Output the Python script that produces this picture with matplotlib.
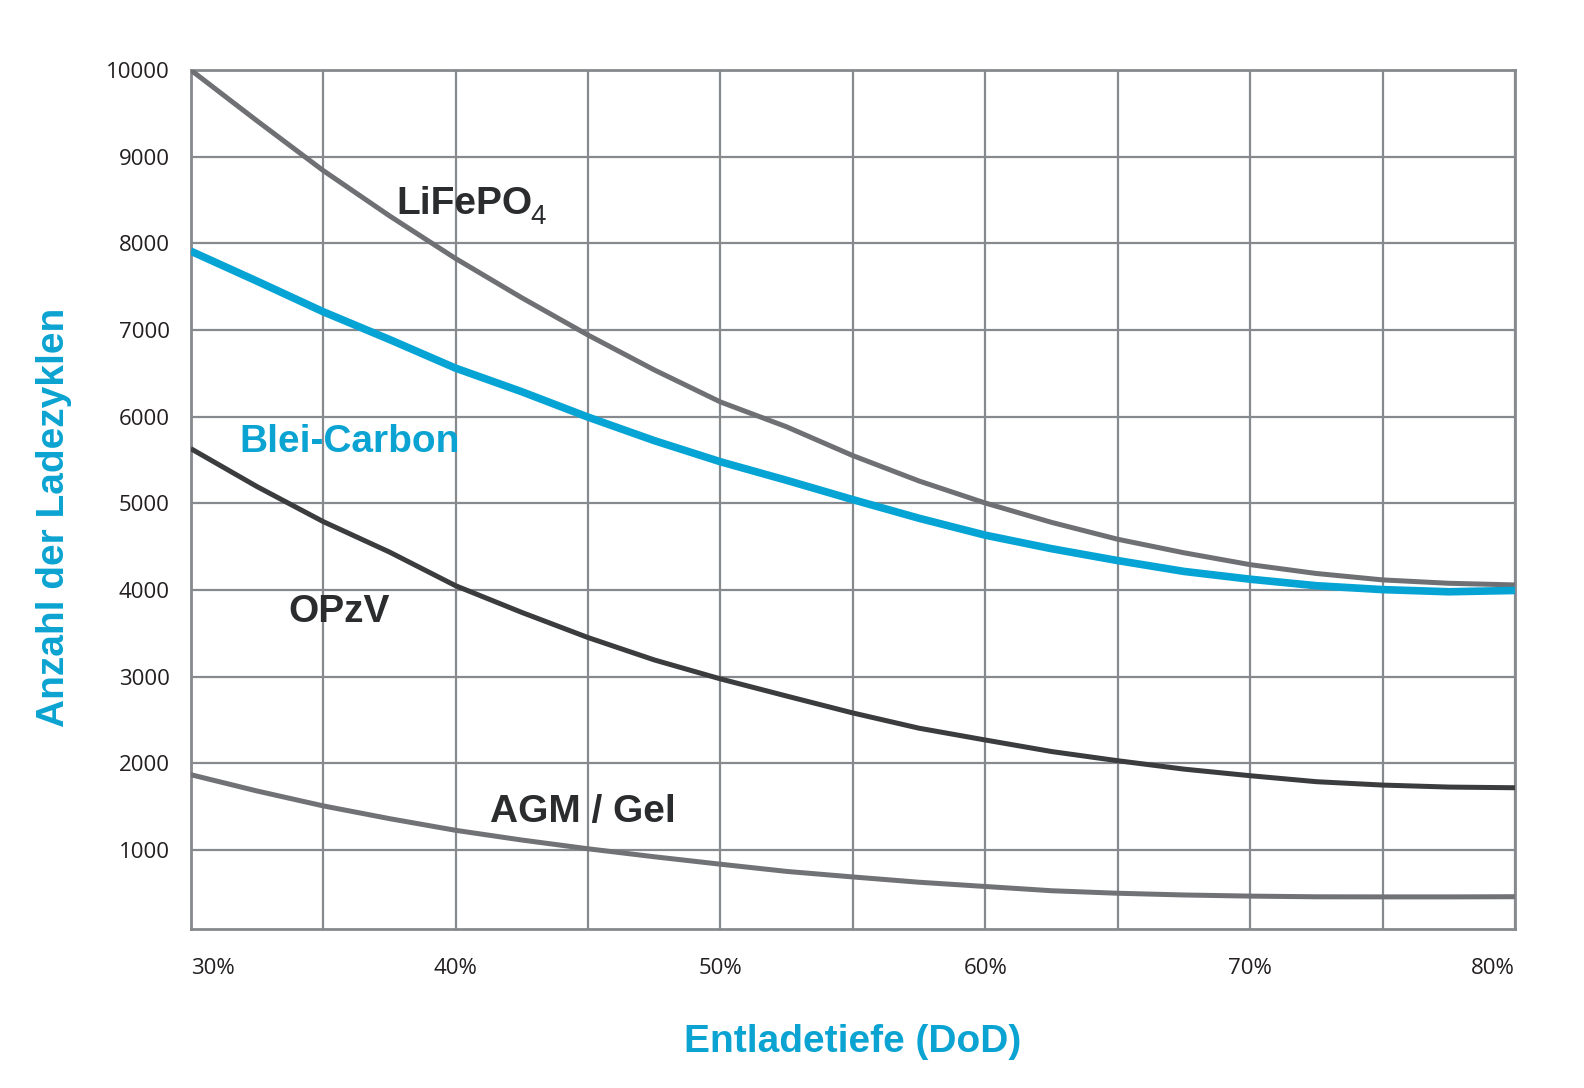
import matplotlib.pyplot as plt

# Werte (Entladetiefe in %, Anzahl Ladezyklen), alle 2,5 %
dod = [30, 32.5, 35, 37.5, 40, 42.5, 45, 47.5, 50, 52.5, 55,
       57.5, 60, 62.5, 65, 67.5, 70, 72.5, 75, 77.5, 80]
lifepo4 = [10000, 9414, 8840, 8318, 7825, 7372, 6942, 6540, 6170, 5883, 5551,
           5258, 5004, 4781, 4586, 4430, 4293, 4191, 4117, 4078, 4059]
blei_carbon = [7910, 7564, 7211, 6891, 6560, 6288, 5995, 5724, 5480, 5266, 5043,
               4828, 4633, 4477, 4340, 4215, 4125, 4050, 4005, 3980, 3995]
opzv = [5632, 5194, 4790, 4439, 4050, 3742, 3452, 3194, 2975, 2777, 2582,
        2406, 2270, 2137, 2031, 1934, 1858, 1789, 1750, 1727, 1719]
agm_gel = [1870, 1682, 1510, 1363, 1228, 1116, 1015, 923, 837, 754, 690,
           629, 580, 531, 502, 482, 469, 461, 460, 460, 462]

x_ticks = [30, 40, 50, 60, 70, 80]
x_ticklabels = ["30%", "40%", "50%", "60%", "70%", "80%"]
y_ticks = [1000, 2000, 3000, 4000, 5000, 6000, 7000, 8000, 9000, 10000]

blau = "#0ba3d1"
dunkel = "#2b2c2e"
gitter = "#86898d"

fig = plt.figure(figsize=(15.84, 10.88), dpi=100)
ax = fig.add_axes([0.1204, 0.1461, 0.8360, 0.7896])

ax.plot(dod, lifepo4, color="#6f7074", lw=3.6, solid_capstyle="butt", solid_joinstyle="round", zorder=3)
ax.plot(dod, opzv, color="#3b3c3e", lw=3.6, solid_capstyle="butt", solid_joinstyle="round", zorder=3)
ax.plot(dod, agm_gel, color="#717276", lw=3.6, solid_capstyle="butt", solid_joinstyle="round", zorder=3)
ax.plot(dod, blei_carbon, color="#05a4d4", lw=5.5, solid_capstyle="butt", solid_joinstyle="round", zorder=4)

ax.set_xlim(30, 80)
ax.set_ylim(89, 10000)

# Gitter alle 5 % und alle 1000 Zyklen
ax.set_xticks(list(range(30, 81, 5)))
ax.set_xticklabels([])
ax.set_yticks(y_ticks)
ax.set_yticklabels([str(v) for v in y_ticks], fontsize=16, family="Open Sans", color="#231f20")
ax.grid(True, color=gitter, lw=1.6)
ax.set_axisbelow(True)
ax.tick_params(axis="both", length=0)
ax.tick_params(axis="y", pad=15)
for s in ax.spines.values():
    s.set_color(gitter)
    s.set_linewidth(2)

# x-Beschriftungen: 30% links bündig, 80% rechts bündig
for v, lab in zip(x_ticks, x_ticklabels):
    ha = "center"
    if v == 30:
        ha = "left"
    elif v == 80:
        ha = "right"
    ax.annotate(lab, xy=(v, 0), xycoords=("data", "axes fraction"),
                xytext=(0, -29), textcoords="offset pixels",
                ha=ha, va="top", fontsize=16, family="Open Sans", color="#231f20")

# Kurvennamen
t = ax.text(37.78, 8338, "LiFePO", fontsize=28, fontweight="bold", family="Liberation Sans",
            color=dunkel, va="baseline", ha="left")
ax.annotate("4", xy=(1, 0), xycoords=t, xytext=(-3, -8), textcoords="offset pixels",
            fontsize=20, family="Liberation Sans", color=dunkel, va="bottom", ha="left")
ax.text(31.84, 5589, "Blei-Carbon", fontsize=28, fontweight="bold", family="Liberation Sans",
        color=blau, va="baseline", ha="left")
ax.text(33.69, 3634, "OPzV", fontsize=28, fontweight="bold", family="Liberation Sans",
        color=dunkel, va="baseline", ha="left")
ax.text(41.30, 1319, "AGM / Gel", fontsize=28, fontweight="bold", family="Liberation Sans",
        color=dunkel, va="baseline", ha="left")

# Achsentitel
fig.text(852.9 / 1584, 1 - 1052 / 1088, "Entladetiefe (DoD)", fontsize=28, fontweight="bold",
         family="Liberation Sans", color=blau, ha="center", va="baseline")
fig.text(54 / 1584, 1 - 517 / 1088, "Anzahl der Ladezyklen", fontsize=28, fontweight="bold",
         family="Liberation Sans", color=blau, ha="center", va="center", rotation=90)

fig.savefig("out.png", dpi=100, facecolor="white")
